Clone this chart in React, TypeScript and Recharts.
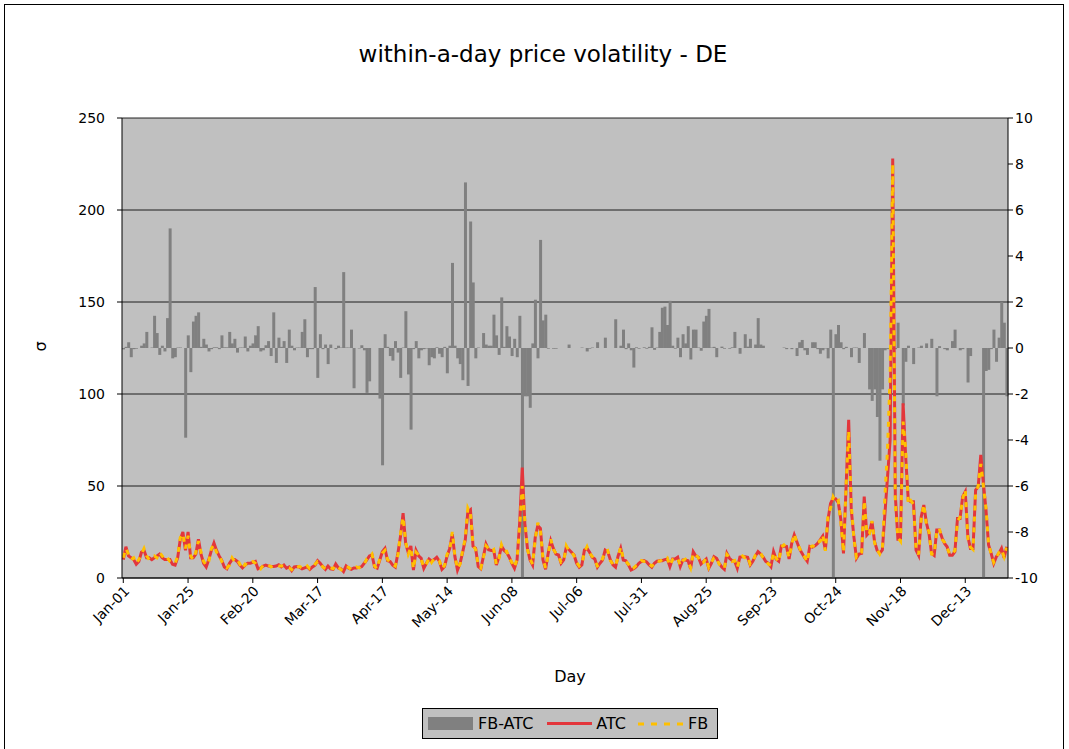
import React from 'react';
import { ComposedChart, Bar, Line, XAxis, YAxis, CartesianGrid } from 'recharts';

const tickLabels = ['Jan-01', 'Jan-25', 'Feb-20', 'Mar-17', 'Apr-17', 'May-14', 'Jun-08', 'Jul-06', 'Jul-31', 'Aug-25', 'Sep-23', 'Oct-24', 'Nov-18', 'Dec-13'];
const TICK_STEP = 25;

const atc = [
  10, 17, 12, 11, 10, 7.5, 9, 14, 15, 11, 11, 10, 11, 12, 13, 11, 10, 10, 10, 7.5, 7, 11, 21, 25, 15,
  25, 11, 11, 13, 21, 13, 8, 6, 10, 15, 19, 15, 12, 9.5, 6, 5, 8, 10, 10, 9, 7, 5.5, 7, 8, 8,
  8.5, 9, 5, 5.5, 6.5, 7, 6.5, 6.3, 6.2, 6.5, 7.2, 6, 7, 5.3, 6, 4, 6, 6.2, 5.9, 5, 5.5, 6, 4.7, 6, 7,
  9.4, 8, 6.2, 4.7, 6.5, 5, 4.7, 7.6, 5.5, 5, 3.5, 6.5, 5.3, 4.7, 5.5, 5.5, 5.8, 6.2, 8, 9.8, 12, 12.5, 6, 5.3, 9.8,
  14.3, 16.1, 9.4, 8.9, 7, 5.9, 13.4, 22.5, 35.2, 18.8, 13.8, 17.4, 4.3, 15, 12, 10.7, 5.3, 8, 10.3, 9.1, 10, 11.3, 9.1, 4.7, 6.2,
  12, 16.1, 23.8, 11.6, 4.3, 8, 14, 20.7, 36, 37.1, 17.2, 16.1, 6.2, 5, 11.6, 18.5, 15.4, 15, 15, 7.1, 11.3, 17.2, 15, 13.8, 11.3,
  8, 5.3, 9.8, 30, 60, 29.6, 16.1, 9.8, 7.1, 22, 28.5, 27, 9.8, 4.7, 13.4, 20.3, 16.1, 13, 12.5, 8, 9.8, 16.7, 15.5, 14, 12.5,
  8, 5.9, 7.1, 15.2, 16.1, 14, 11.3, 10.3, 5.9, 8, 9.8, 15.2, 14.3, 10, 7.1, 5.9, 12, 16.1, 9.8, 9.4, 7.1, 4.3, 5, 6.2, 8,
  9, 9.4, 8.7, 7.1, 5.9, 8, 9.1, 9.4, 9.4, 10, 10.3, 6.2, 10.3, 10.3, 11.3, 6.2, 9.8, 9.8, 9.4, 5, 14.3, 12, 11.3, 7.6, 9,
  10.3, 5.3, 8, 11.6, 10.7, 8, 6, 4.7, 13.4, 10.7, 9.5, 9.1, 5.3, 11.3, 11.5, 11.6, 11.3, 7.1, 9.1, 12, 14.3, 13, 11.3, 9, 8,
  6.2, 14.3, 10.3, 9.1, 17.4, 17.3, 17.2, 10.3, 18.8, 23.4, 19.7, 16, 13.4, 11, 9.1, 17.2, 16.8, 17.5, 18.8, 20.7, 22.8, 15.2, 31.5, 40.5, 43.3,
  43, 41, 31.5, 13.4, 49.6, 86, 37, 22.5, 10.7, 13, 13.4, 44.2, 23.4, 25, 30.6, 19.7, 15, 13.4, 15.2, 35, 55, 75, 228, 45, 21,
  21, 95, 66, 42.4, 41.5, 41.5, 15.2, 12.3, 33.3, 39.7, 30, 24.3, 13.4, 12.3, 26.1, 26.1, 22, 18.8, 17, 12.3, 12.3, 14.3, 32.4, 32.4, 44.2,
  46.9, 22.5, 16.1, 16.1, 47.8, 49.6, 66.9, 51.5, 37, 17.9, 13.4, 8, 11.6, 13.4, 16.1, 10.9, 17,
];

const fb = [
  11, 16, 13, 10, 11, 8, 10, 13, 16, 12, 10, 11, 12, 11, 14, 12, 10, 11, 9, 8, 8, 12, 22, 24, 16,
  23, 12, 10, 14, 20, 14, 9, 7, 9, 16, 18, 14, 13, 9, 7, 5.5, 7, 11, 9, 10, 7.5, 5, 7.5, 7, 8.5,
  9, 8, 6, 5, 7, 6.5, 7, 6, 6.8, 7, 6.5, 6.5, 6.5, 5.8, 5.5, 4.5, 6.5, 5.8, 6.3, 5.5, 5, 6.5, 5, 5.5, 7.5,
  9, 8.5, 6, 5, 6, 5.5, 5, 7, 6, 4.5, 4, 6, 5.8, 4.5, 5, 6, 5.5, 6.8, 7.5, 10.5, 11.5, 13, 6.5, 5, 10.5,
  13.5, 15, 10, 8.5, 7.5, 6.5, 12.5, 24, 33, 19.5, 13, 16.5, 5, 14, 12.5, 10, 6, 7.5, 11, 8.5, 10.5, 10.5, 9.5, 5, 6.8,
  13, 15, 25, 12, 5, 7.5, 15, 21.5, 38, 35, 18, 15.5, 7, 5.5, 11, 17.5, 16, 14.5, 15.5, 7.5, 10.5, 18, 14.5, 14.5, 10.5,
  8.5, 5.8, 10.5, 28, 50, 31, 15.5, 10.5, 7.5, 21, 30, 26, 10.5, 5.5, 12.5, 21, 15.5, 13.5, 12, 8.5, 9, 17.5, 15, 14.5, 12,
  8.5, 6.5, 7.5, 14, 17, 13.5, 11.8, 9.8, 6.5, 7.5, 10.5, 14.5, 15, 9.5, 7.5, 6.5, 11.5, 16.8, 10.5, 9, 7.5, 4.8, 5.5, 6.8, 7.5,
  9.5, 9, 9.2, 7.5, 6.5, 7.5, 9.5, 9, 10, 9.5, 10.8, 6.8, 10, 10.8, 11, 6.8, 9.5, 10.3, 9, 5.5, 13.5, 12.5, 11, 8, 8.5,
  10.8, 5.8, 8.5, 11, 11.2, 7.5, 6.5, 5.2, 12.8, 11.2, 9, 9.5, 5.8, 10.8, 12, 11, 11.8, 7.5, 8.8, 12.5, 13.8, 13.5, 11, 9.5, 7.5,
  6.8, 13.8, 10.8, 8.8, 16.8, 18, 16.5, 11, 18, 24, 19, 16.5, 13, 11.5, 8.8, 16.5, 17.5, 17, 19.5, 20, 23.5, 14.8, 34, 38, 44,
  41, 42, 30, 14, 50, 80, 40, 21.5, 11.2, 12.5, 14, 42, 24, 24, 31, 19, 15.5, 13, 16, 45, 70, 110, 225, 40, 22,
  20, 85, 70, 40, 42, 40, 16, 12.8, 32, 40, 29, 25, 13, 12.8, 25, 27, 21, 19.5, 16.5, 12.8, 13, 15, 31, 33, 43,
  48, 21.5, 16.8, 15.5, 46, 50, 62, 50, 38, 18.5, 13, 8.5, 11, 14, 15.5, 11.5, 16.5,
];

const fbMinusAtc = [
  -0.06, 0.05, 0.25, -0.4, -0.05, -0.03, 0, 0.1, 0.2, 0.7, 0, 0.02, 1.4, 0.65, -0.3, 0.1, -0.15, 1.3, 5.2, -0.45, -0.4, 0.02, 0.02, 0, -3.9,
  0.55, -1.05, 1.15, 1.4, 1.55, 0.05, 0.4, 0.15, -0.15, -0.05, 0.03, 0.03, -0.05, 0.55, 0.03, 0.03, 0.7, 0.2, 0.4, -0.2, 0.02, 0.02, 0.5, -0.15, 0.1,
  0.2, 0.55, 0.95, -0.15, -0.1, 0.12, 0.3, -0.35, 1.55, -0.65, 0.45, 0.05, 0.3, -0.65, 0.8, 0.1, -0.1, 0.02, 0.02, 0.7, 1.25, -0.4, -0.05, -0.05, 2.65,
  -1.3, 0.6, -0.05, 0.15, -0.7, 0.15, 0, -0.05, 0.1, 0.02, 3.3, 0.02, 0.02, 0.8, -1.75, 0, -0.02, 0.12, -0.1, -1.95, -1.45, 0, 0, 0, -2.2,
  -5.1, 0.6, 0.05, -0.35, -0.55, 0.3, -0.2, -1.3, 0.02, 1.6, -1.15, -3.55, -0.05, 0.3, -0.45, -0.1, -0.05, -0.02, -0.75, -0.4, -0.45, 0.03, -0.25, -0.4, 0.05,
  -1.1, 0.1, 3.7, 0.1, -0.45, -0.7, -1.4, 7.2, -1.65, 5.5, 2.85, -0.45, 0.02, 0, 0.65, 0.15, 0.1, 0.1, 1.45, 0.55, -0.3, 2.2, 0.05, 0.95, 0.5,
  -0.35, 0.4, -0.4, 1.4, -10, -2.1, -2.1, -2.6, 0.2, 2.1, -0.45, 4.7, 1.2, 1.45, -0.03, 0, -0.03, -0.03, 0, 0, 0, 0, 0.15, 0, 0,
  0, 0, 0.02, 0, -0.15, -0.03, 0.02, 0, 0.25, 0, 0, 0.45, 0, 0, 0, 1.25, 0, 0.1, 0.8, -0.05, 0.2, -0.1, -0.85, 0.03, -0.03,
  0, 0.03, -0.03, 0.05, 0.9, -0.08, 0.02, 0.7, 1.75, 1.8, 1.0, 2.05, 0.1, -0.03, 0.45, -0.4, 0.6, 0.2, 0.95, -0.5, 0.8, 0.8, 0.02, -0.12, 1.15,
  1.4, 1.7, 0.02, 0.05, -0.4, 0, 0.06, -0.03, 0, -0.03, 0.03, 0.7, 0, -0.25, 0, 0.6, 0.06, 0.4, 0, 0.15, 1.3, 0.15, 0.1, 0, 0,
  0, 0, 0, 0, 0, 0.02, -0.05, 0, -0.05, 0, -0.35, 0.25, 0.35, -0.1, -0.3, 0, 0.25, 0.25, -0.05, -0.25, -0.1, -0.02, -0.45, 0.8, -10,
  0.6, 1.0, 0.25, -0.05, 0.05, 0, -0.4, 0.02, 0.02, -0.65, 0, 0.65, 0, -1.8, -2.3, -1.8, -3.0, -4.9, -1.8, -0.1, -0.05, -0.05, -0.05, -0.05, 1.1,
  0, -2.5, -0.6, 0.1, 0, -0.7, 0, 0.02, 0.1, 0, 0.2, 0, 0.4, 0, -2.1, 0.08, 0, -0.05, -0.1, 0, 0.3, 0.8, 0, -0.1, -0.05,
  0, -1.5, -0.35, 0, 0, 0, 0, -10, -1.0, -0.95, -0.05, 0.8, -0.6, 0.45, 2.0, 1.1, -2.1,
];

const leftTicks = [0, 50, 100, 150, 200, 250];
const rightTicks = [-10, -8, -6, -4, -2, 0, 2, 4, 6, 8, 10];

const data = atc.map((v, i) => ({ idx: i, atc: v, fb: fb[i], diff: fbMinusAtc[i] }));

const FONT = '"DejaVu Sans", Verdana, sans-serif';
const RED = '#e3363b';
const YELLOW = '#ffc000';
const GRAY = '#808080';

export default function App() {
  return (
    <div style={{ position: 'absolute', left: 0, top: 0, width: 1069, height: 749, background: '#fff', overflow: 'hidden', fontFamily: FONT }}>
      <div style={{ position: 'absolute', left: 4, top: 4, width: 1060, height: 760, border: '1px solid #000', boxSizing: 'border-box' }} />
      <div style={{ position: 'absolute', left: 0, width: 1086, top: 41, textAlign: 'center', fontSize: 23, color: '#000' }}>
        within-a-day price volatility - DE
      </div>
      <ComposedChart
        width={1069}
        height={749}
        data={data}
        margin={{ top: 118, right: 11, bottom: 111, left: 62 }}
        barCategoryGap={0}
        barGap={0}
        style={{ position: 'absolute', left: 0, top: 0 }}
      >
        <CartesianGrid yAxisId="left" vertical={false} stroke="#000" strokeOpacity={0.85} fill="#c0c0c0" fillOpacity={1} />
        <XAxis
          dataKey="idx"
          type="category"
          interval={TICK_STEP - 1}
          tickFormatter={(v: number) => tickLabels[Math.round(v / TICK_STEP)] ?? ''}
          angle={-45}
          textAnchor="end"
          height={60}
          tickSize={5}
          tickMargin={2}
          stroke="#000"
          tick={{ fill: '#000', fontSize: 14, fontFamily: FONT }}
        />
        <YAxis
          yAxisId="left"
          domain={[0, 250]}
          ticks={leftTicks}
          width={60}
          tickSize={5}
          tickMargin={12}
          stroke="#000"
          tick={{ fill: '#000', fontSize: 14, fontFamily: FONT }}
        />
        <YAxis
          yAxisId="right"
          orientation="right"
          domain={[-10, 10]}
          ticks={rightTicks}
          width={50}
          tickSize={5}
          tickMargin={2}
          stroke="#000"
          tick={{ fill: '#000', fontSize: 14, fontFamily: FONT }}
        />
        <Bar yAxisId="right" dataKey="diff" fill={GRAY} isAnimationActive={false} />
        <Line yAxisId="left" type="linear" dataKey="atc" stroke={RED} strokeWidth={3} dot={false} isAnimationActive={false} />
        <Line yAxisId="left" type="linear" dataKey="fb" stroke={YELLOW} strokeWidth={3} strokeDasharray="5 6" dot={false} isAnimationActive={false} />
      </ComposedChart>
      <div style={{ position: 'absolute', left: 35, top: 337, fontSize: 16, transform: 'rotate(-90deg)', transformOrigin: 'center' }}>σ</div>
      <div style={{ position: 'absolute', left: 0, width: 1140, top: 667, textAlign: 'center', fontSize: 16 }}>Day</div>
      <div style={{ position: 'absolute', left: 422, top: 708, width: 296, height: 31, border: '1px solid #000', boxSizing: 'border-box', background: '#c0c0c0', display: 'flex', alignItems: 'center', fontSize: 16, paddingLeft: 5 }}>
        <div style={{ width: 45, height: 13, background: GRAY, marginRight: 5 }} />
        <span style={{ marginRight: 14 }}>FB-ATC</span>
        <div style={{ width: 45, height: 3, background: RED, marginRight: 4 }} />
        <span style={{ marginRight: 12 }}>ATC</span>
        <svg width={46} height={6} style={{ marginRight: 4 }}>
          <line x1={0} y1={3} x2={46} y2={3} stroke={YELLOW} strokeWidth={3} strokeDasharray="6 7" />
        </svg>
        <span>FB</span>
      </div>
    </div>
  );
}
